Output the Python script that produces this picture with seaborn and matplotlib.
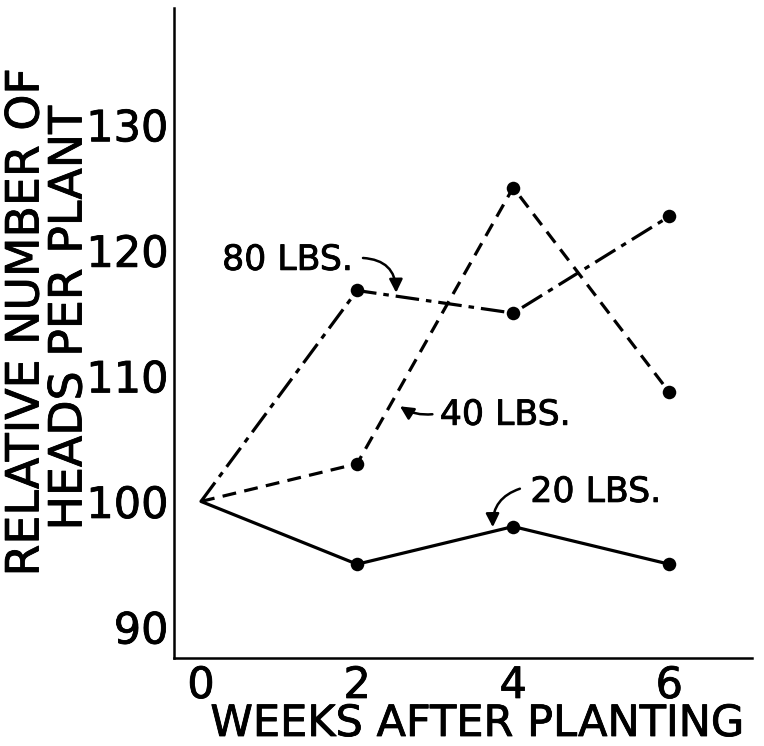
import matplotlib
matplotlib.use("Agg")
import matplotlib.pyplot as plt
import matplotlib.patheffects as pe
import seaborn as sns
import pandas as pd

# ---- data ----
weeks = [0, 2, 4, 6]
lbs20 = [100, 95.0, 98.0, 95.0]
lbs40 = [100, 103.0, 125.0, 108.7]
lbs80 = [100, 116.8, 115.0, 122.7]
series_names = ["20 LBS.", "40 LBS.", "80 LBS."]
x_ticks = [0, 2, 4, 6]
y_ticks = [90, 100, 110, 120, 130]
x_label = "WEEKS AFTER PLANTING"
y_label_1 = "RELATIVE NUMBER OF"
y_label_2 = "HEADS PER PLANT"

rows = []
for name, vals in zip(series_names, [lbs20, lbs40, lbs80]):
    for w, v in zip(weeks, vals):
        rows.append({"week": w, "value": v, "rate": name})
df = pd.DataFrame(rows)

sns.set_theme(style="white")
plt.rcParams["font.family"] = ["DejaVu Sans"]
plt.rcParams["lines.scale_dashes"] = False

stroke = [pe.withStroke(linewidth=0.6, foreground="black")]

fig = plt.figure(figsize=(7.64, 7.46), dpi=100)
ax = fig.add_axes([174 / 764, (746 - 658) / 746, (752 - 174) / 764, (658 - 8) / 746])

dash_map = {"20 LBS.": "", "40 LBS.": (10, 6), "80 LBS.": (17, 5, 4, 5)}
sns.lineplot(data=df, x="week", y="value", style="rate", dashes=dash_map,
             color="black", linewidth=2.3, legend=False, ax=ax)
pts = df[df["week"] > 0]
sns.scatterplot(data=pts, x="week", y="value", color="black", s=95,
                edgecolor="black", linewidth=0, legend=False, ax=ax, zorder=5)

ax.set_xlim(-0.346, 7.06)
ax.set_ylim(87.53, 139.3)
ax.set_xticks(x_ticks)
ax.set_yticks(y_ticks)
ax.set_xlabel("")
ax.set_ylabel("")
for s in ["top", "right"]:
    ax.spines[s].set_visible(False)
for s in ["left", "bottom"]:
    ax.spines[s].set_color("black")
    ax.spines[s].set_linewidth(1.8)
ax.tick_params(axis="both", direction="in", length=13, width=1.6, color="black",
               labelsize=31, labelcolor="black")
ax.tick_params(axis="y", pad=4)
ax.tick_params(axis="x", pad=5)
for lab in ax.get_xticklabels() + ax.get_yticklabels():
    lab.set_path_effects(stroke)

# annotations
ax.text(0.27, 119.24, series_names[2], fontsize=25, ha="left", va="center",
        color="black", path_effects=stroke)
ax.annotate("", xy=(2.5, 116.4), xytext=(2.04, 119.4),
            arrowprops=dict(arrowstyle="-|>", color="black", lw=1.8,
                            mutation_scale=20,
                            connectionstyle="arc3,rad=-0.5"))

ax.text(3.06, 106.9, series_names[1], fontsize=25, ha="left", va="center",
        color="black", path_effects=stroke)
ax.annotate("", xy=(2.52, 107.7), xytext=(3.0, 106.97),
            arrowprops=dict(arrowstyle="-|>", color="black", lw=1.8,
                            mutation_scale=20,
                            connectionstyle="arc3,rad=-0.2"))

ax.text(4.22, 100.76, series_names[0], fontsize=25, ha="left", va="center",
        color="black", path_effects=stroke)
ax.annotate("", xy=(3.74, 97.73), xytext=(4.12, 101.08),
            arrowprops=dict(arrowstyle="-|>", color="black", lw=1.8,
                            mutation_scale=20,
                            connectionstyle="arc3,rad=0.4"))

# axis labels
fig.text(477 / 764, 1 / 746, x_label, fontsize=31, ha="center", va="bottom",
         color="black", path_effects=stroke)
fig.text(26 / 764, 1 - 322 / 746, y_label_1, fontsize=33, rotation=90,
         ha="center", va="center", color="black", path_effects=stroke)
fig.text(69 / 764, 1 - 318 / 746, y_label_2, fontsize=33, rotation=90,
         ha="center", va="center", color="black", path_effects=stroke)

fig.savefig("out.png", dpi=100, facecolor="white")
